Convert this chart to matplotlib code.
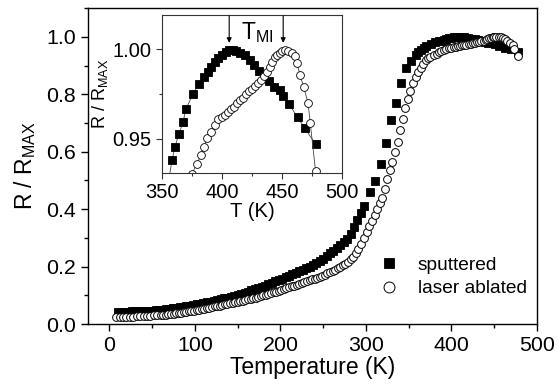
import numpy as np
import matplotlib.pyplot as plt
from matplotlib.ticker import MultipleLocator, FormatStrFormatter

plt.rcParams['font.family'] = ['Liberation Sans', 'DejaVu Sans']
plt.rcParams['mathtext.default'] = 'regular'

# sputtered film (filled squares)
t_sp = [10, 14, 18, 22, 26, 30, 34, 38, 42, 46, 50, 54, 58, 62, 66, 70, 74, 78,
        82, 86, 90, 94, 98, 102, 106, 110, 114, 118, 122, 126, 130, 134, 138,
        142, 146, 150, 154, 158, 162, 166, 170, 174, 178, 182, 186, 190, 194,
        198, 202, 206, 210, 214, 218, 222, 226, 230, 234, 238, 242, 246, 250,
        254, 258, 262, 266, 270, 274, 278, 282, 286, 290, 294, 298, 305, 311,
        317.6, 323.5, 329.4, 335.3, 341, 347, 353, 358.3, 360.8, 364.2, 367.5,
        370, 375.8, 380.8, 385, 388, 391, 394, 397, 400, 403, 406, 409, 412,
        415, 419, 423, 427, 431, 435, 439, 443, 448, 451, 455.8, 463, 469, 478]
r_sp = [.042, .042, .043, .043, .044, .044, .045, .045, .046, .046, .047, .048,
        .049, .050, .052, .053, .055, .056, .058, .060, .062, .064, .066, .068,
        .071, .073, .075, .078, .080, .083, .086, .089, .092, .095, .098, .102,
        .105, .109, .113, .117, .121, .125, .130, .134, .139, .144, .149, .154,
        .158, .163, .168, .173, .178, .183, .188, .194, .200, .207, .214, .221,
        .228, .237, .246, .255, .265, .275, .285, .296, .315, .338, .362, .387,
        .410, .460, .498, .557, .631, .711, .770, .840, .892, .916, .938, .9456,
        .9528, .9594, .9667, .975, .9806, .9844, .987, .990, .993, .995, .997,
        .9985, .9995, .9995, .999, .998, .9967, .994, .991, .988, .985, .982,
        .979, .9772, .974, .9694, .962, .956, .947]

# laser ablated film (open circles)
t_la = [8, 12, 16, 20, 24, 28, 32, 36, 40, 44, 48, 52, 56, 60, 63, 66, 69, 72,
        75, 78, 81, 84, 87, 90, 93, 96, 99, 102, 105, 108, 111, 114, 117, 120,
        123, 126, 129, 132, 135, 138, 141, 144, 147, 150, 153, 156, 159, 162,
        165, 168, 171, 174, 177, 180, 183, 186, 189, 192, 195, 198, 201, 204,
        207, 210, 213, 216, 219, 222, 225, 228, 231, 234, 237, 240, 243, 246,
        249, 252, 255, 258, 261, 264, 267, 270, 273, 276, 279, 282, 285, 288,
        291, 294, 298, 301, 304, 307, 310, 313, 316, 319, 322, 325, 328, 331,
        334, 337, 340, 343, 346, 349, 352, 355, 358, 361, 364, 367, 370, 373,
        375, 379, 382.5, 385, 387.5, 390.8, 394, 396.7, 400, 402.5, 405, 407.5,
        410, 412.5, 415, 417.5, 420, 422.5, 425, 427.5, 430, 432.5, 435, 437.5,
        440, 442, 444, 446, 448, 450, 452.5, 455, 458, 460.5, 462.5, 465, 468,
        471.7, 473.5, 478]
r_la = [.025, .025, .025, .026, .026, .026, .027, .027, .028, .028, .029, .030,
        .030, .031, .032, .033, .034, .035, .036, .037, .039, .040, .041, .043,
        .044, .046, .047, .049, .050, .052, .054, .055, .057, .059, .061, .062,
        .064, .066, .068, .070, .072, .074, .075, .077, .079, .081, .084, .086,
        .088, .090, .092, .095, .097, .100, .102, .105, .107, .110, .113, .116,
        .119, .122, .125, .128, .131, .134, .137, .140, .143, .146, .149, .152,
        .155, .158, .161, .164, .168, .172, .176, .180, .184, .189, .194, .199,
        .204, .210, .216, .225, .235, .247, .260, .278, .300, .320, .342, .360,
        .380, .400, .420, .440, .470, .505, .535, .565, .600, .635, .675, .715,
        .752, .784, .812, .838, .860, .878, .893, .907, .918, .926, .9306, .936,
        .941, .9456, .9506, .954, .958, .961, .962, .9635, .965, .9665, .968,
        .970, .9715, .973, .975, .9765, .978, .9795, .981, .983, .985, .987,
        .990, .993, .9956, .997, .998, .999, .9994, .999, .9978, .996, .992,
        .9856, .979, .970, .959, .932]

fig = plt.figure(figsize=(5.58, 3.85), dpi=100)
ax = fig.add_axes([0.1577, 0.1584, 0.8047, 0.8206])

ms = 5.2
ax.plot(t_sp, r_sp, ls='none', marker='s', ms=ms, mfc='black', mec='black',
        mew=0.6, label='sputtered')
ax.plot(t_la, r_la, ls='none', marker='o', ms=ms + 0.4, mfc='white',
        mec='black', mew=0.7, label='laser ablated')

ax.set_xlim(-25, 500)
ax.set_ylim(0, 1.1)
ax.xaxis.set_major_locator(MultipleLocator(100))
ax.xaxis.set_minor_locator(MultipleLocator(50))
ax.yaxis.set_major_locator(MultipleLocator(0.2))
ax.yaxis.set_minor_locator(MultipleLocator(0.1))
ax.yaxis.set_major_formatter(FormatStrFormatter('%.1f'))
ax.tick_params(which='both', direction='out', top=False, right=False,
               labelsize=15.4, width=1)
ax.tick_params(which='major', length=5)
ax.tick_params(which='minor', length=3)
for s in ax.spines.values():
    s.set_linewidth(1)
ax.set_xlabel('Temperature (K)', fontsize=16.5, labelpad=1)
ax.set_ylabel('R / R$_{MAX}$', fontsize=16.5, labelpad=6)

ax.legend(loc='lower right', bbox_to_anchor=(1.015, 0.03), frameon=False,
          fontsize=13.8, markerscale=1.4, handlelength=1.2, handletextpad=0.9,
          labelspacing=0.3)

# inset
ins = fig.add_axes([0.2903, 0.5506, 0.3226, 0.4104])
ins.plot(t_sp, r_sp, ls='-', lw=0.6, color='#444444', marker='s', ms=ms,
         mfc='black', mec='black', mew=0.6)
ins.plot(t_la, r_la, ls='-', lw=0.6, color='#444444', marker='o', ms=ms + 0.4,
         mfc='white', mec='black', mew=0.6)
ins.set_xlim(350, 500)
ins.set_ylim(0.931, 1.019)
ins.xaxis.set_major_locator(MultipleLocator(50))
ins.xaxis.set_minor_locator(MultipleLocator(25))
ins.yaxis.set_major_locator(MultipleLocator(0.05))
ins.yaxis.set_minor_locator(MultipleLocator(0.025))
ins.yaxis.set_major_formatter(FormatStrFormatter('%.2f'))
ins.tick_params(which='both', direction='out', top=False, right=False,
                labelsize=14.5, width=0.8, color='#333333')
ins.tick_params(which='major', length=4)
ins.tick_params(which='minor', length=2.5)
for s in ins.spines.values():
    s.set_linewidth(0.8)
    s.set_color('#333333')
ins.set_xlabel('T (K)', fontsize=14.6, labelpad=0)
ins.set_ylabel('R / R$_{MAX}$', fontsize=13, labelpad=2)

for tx in (406, 451):
    ins.annotate('', xy=(tx, 1.0035), xytext=(tx, 1.0185),
                 arrowprops=dict(arrowstyle='-|>', color='black', lw=0.8,
                                 mutation_scale=7, shrinkA=0, shrinkB=0))
ins.text(416, 1.0058, 'T$_{MI}$', fontsize=16.5, ha='left', va='baseline')

fig.savefig('out.png', dpi=100)
